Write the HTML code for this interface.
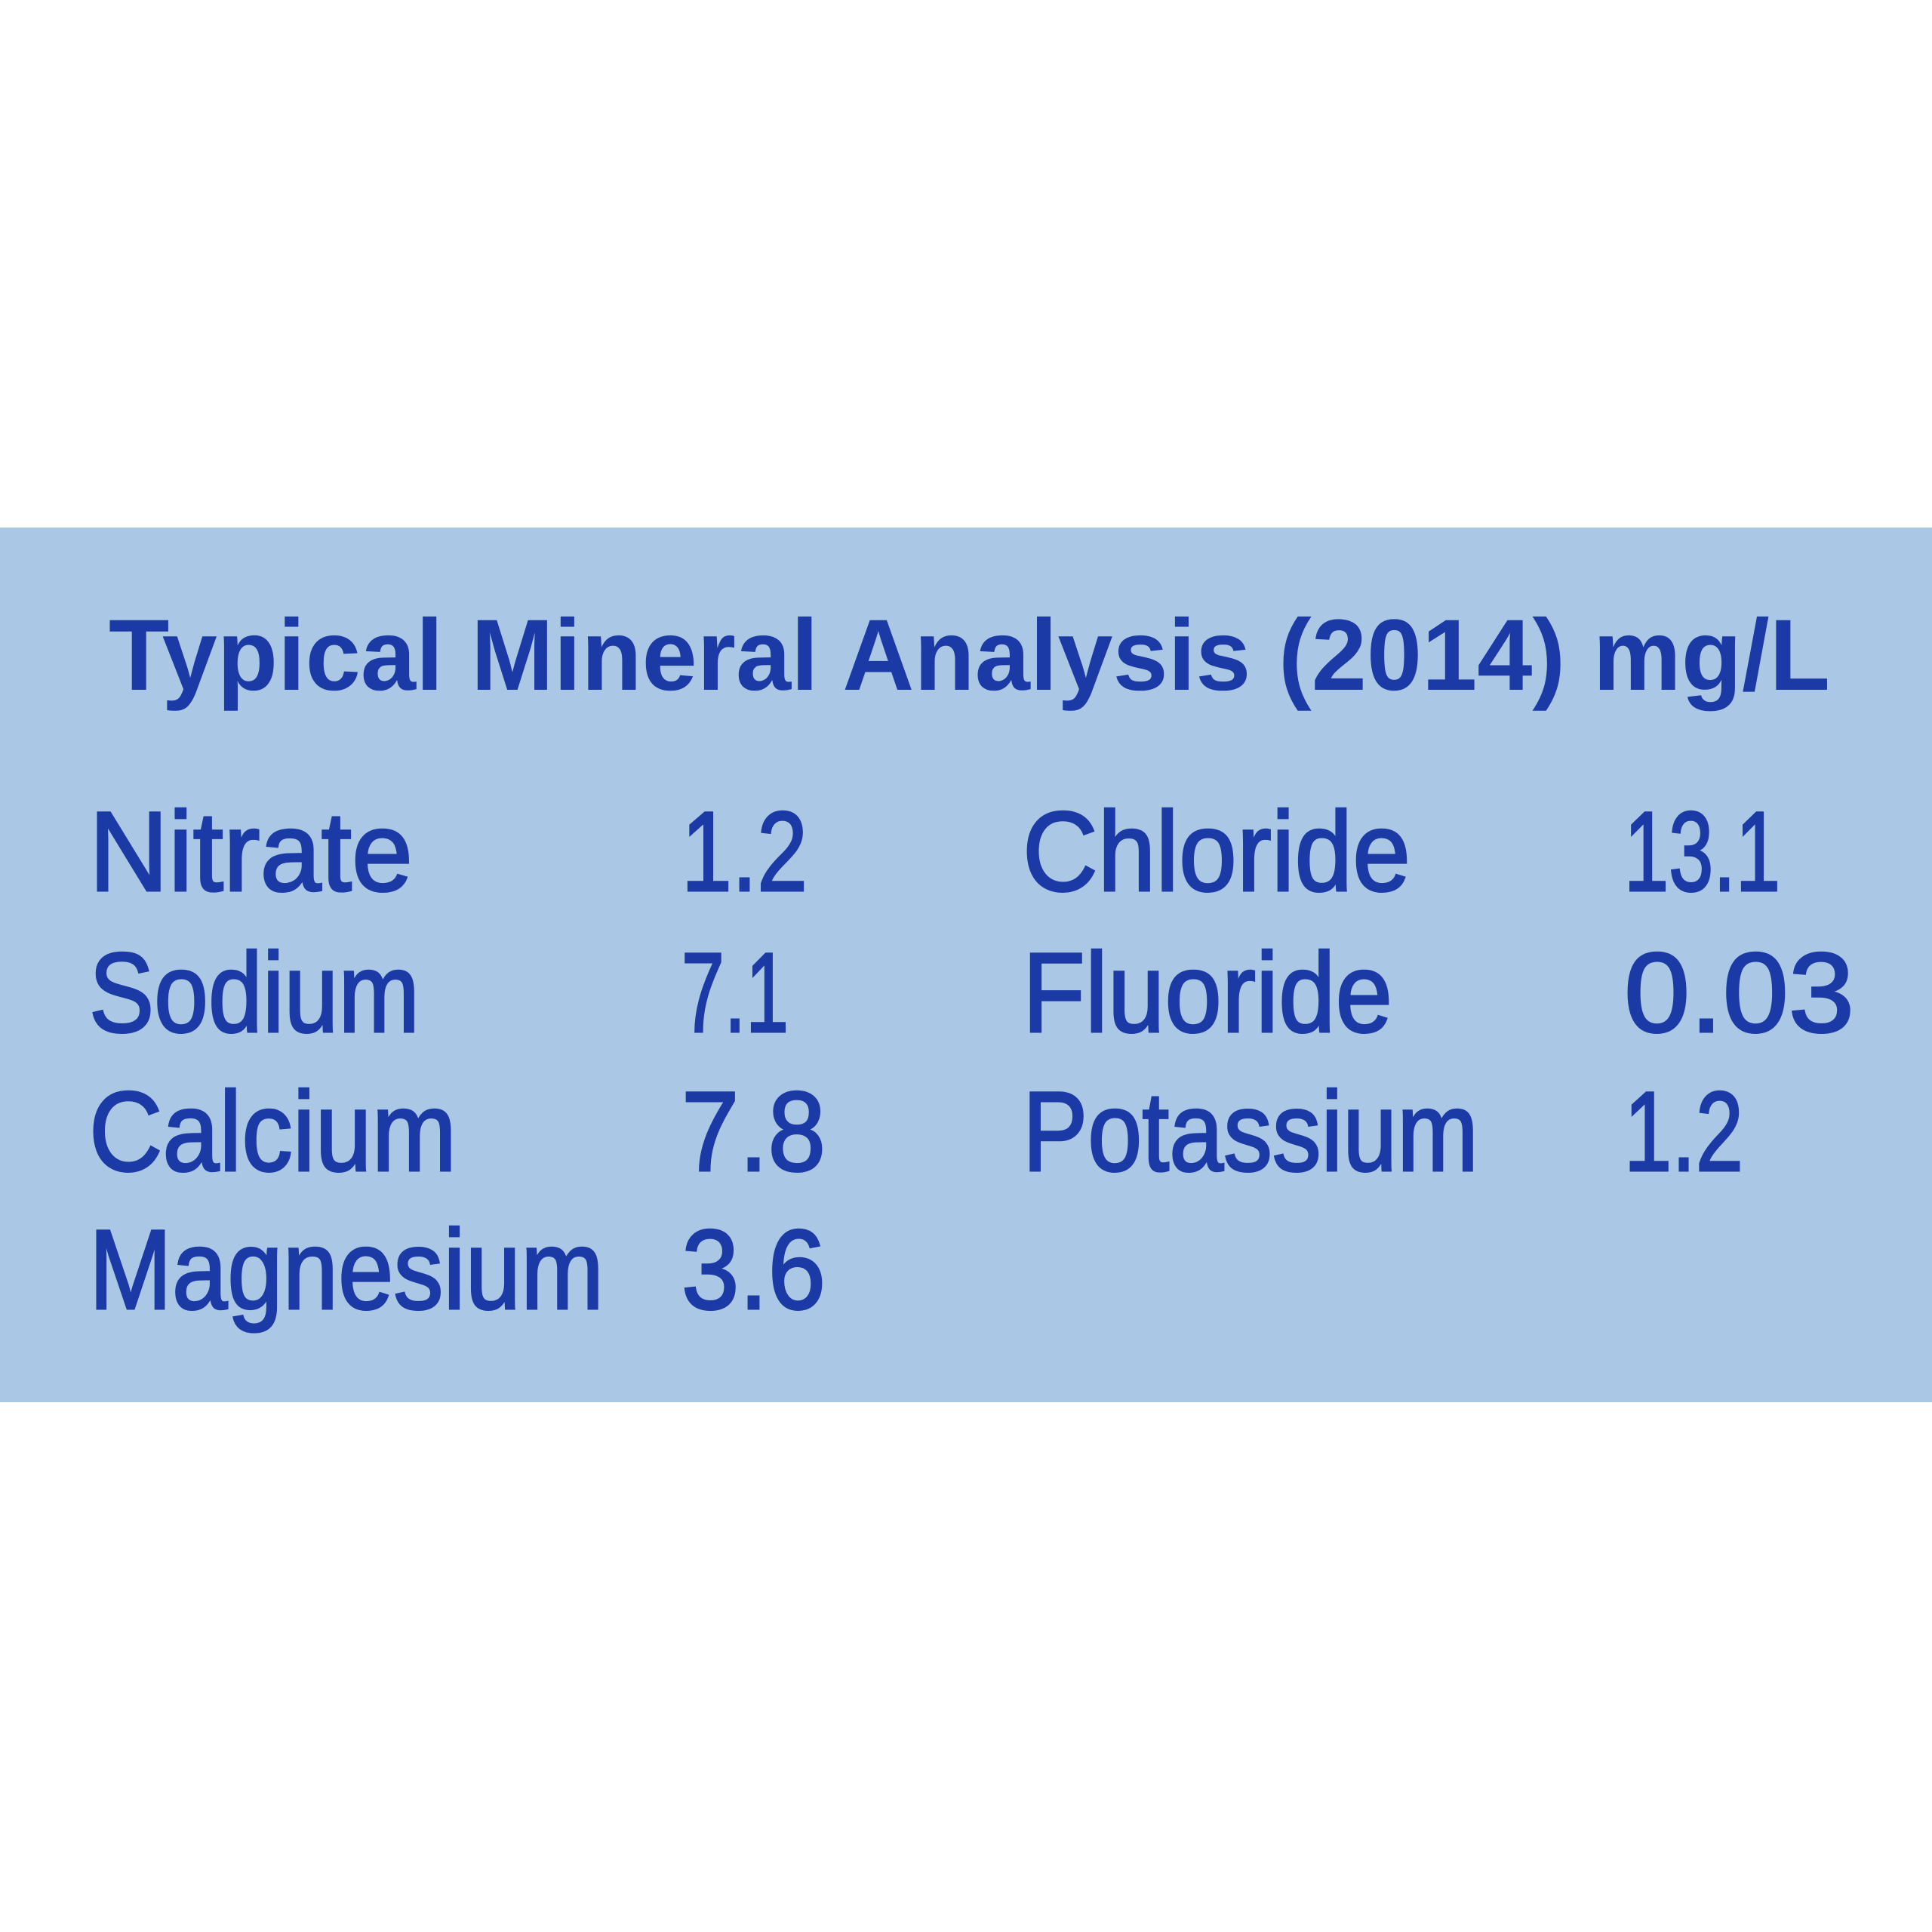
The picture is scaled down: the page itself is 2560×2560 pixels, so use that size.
<!DOCTYPE html>
<html><head><style>
html,body{margin:0;padding:0;background:#fff;}
svg{display:block;}
</style></head><body>
<svg width="2560" height="2560" viewBox="0 0 2560 2560" xmlns="http://www.w3.org/2000/svg">
<rect x="0" y="0" width="2560" height="2560" fill="#ffffff"/>
<rect x="0" y="699" width="2560" height="1159" fill="#aac7e5"/>
<g font-family="Liberation Sans, sans-serif" fill="#1c3aa6">
<text x="144" y="914" font-size="134" font-weight="bold" textLength="2281" lengthAdjust="spacingAndGlyphs">Typical Mineral Analysis (2014) mg/L</text>
<g font-size="150" stroke="#1c3aa6" stroke-width="3">
<text x="118" y="1180" textLength="429" lengthAdjust="spacingAndGlyphs">Nitrate</text>
<text x="118" y="1367" textLength="438" lengthAdjust="spacingAndGlyphs">Sodium</text>
<text x="118" y="1551" textLength="487" lengthAdjust="spacingAndGlyphs">Calcium</text>
<text x="118" y="1734" textLength="682" lengthAdjust="spacingAndGlyphs">Magnesium</text>
<text x="903" y="1180" textLength="167" lengthAdjust="spacingAndGlyphs">1.2</text>
<text x="903" y="1367" textLength="142" lengthAdjust="spacingAndGlyphs">7.1</text>
<text x="903" y="1551" textLength="191" lengthAdjust="spacingAndGlyphs">7.8</text>
<text x="903" y="1734" textLength="191" lengthAdjust="spacingAndGlyphs">3.6</text>
<text x="1355" y="1180" textLength="514" lengthAdjust="spacingAndGlyphs">Chloride</text>
<text x="1355" y="1367" textLength="490" lengthAdjust="spacingAndGlyphs">Fluoride</text>
<text x="1355" y="1551" textLength="604" lengthAdjust="spacingAndGlyphs">Potassium</text>
<text x="2152" y="1180" textLength="207" lengthAdjust="spacingAndGlyphs">13.1</text>
<text x="2152" y="1367" textLength="305" lengthAdjust="spacingAndGlyphs">0.03</text>
<text x="2152" y="1551" textLength="158" lengthAdjust="spacingAndGlyphs">1.2</text>
</g>
</g>
</svg>
</body></html>
